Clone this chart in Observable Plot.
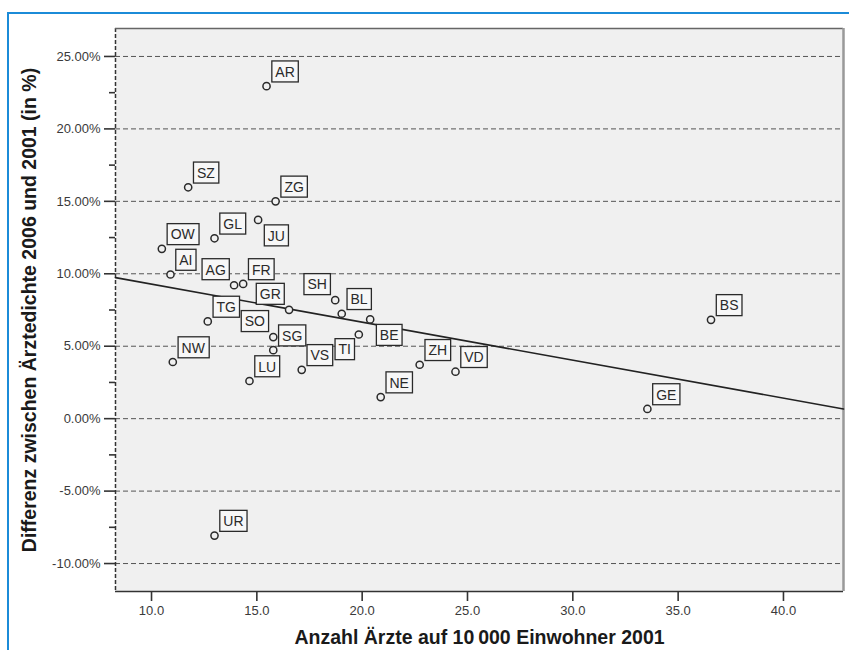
<!DOCTYPE html>
<html><head><meta charset="utf-8">
<script src="https://cdn.jsdelivr.net/npm/d3@7"></script>
<script src="https://cdn.jsdelivr.net/npm/@observablehq/plot@0.6"></script>
<style>
body{margin:0;background:#fff;}
#wrap{position:relative;width:849px;height:650px;overflow:hidden;}
#blue{position:absolute;left:7px;top:12px;width:900px;height:700px;border-left:2px solid #1b8bd8;border-top:2px solid #1b8bd8;pointer-events:none;}
</style></head><body><div id="wrap"><div id="blue"></div></div>
<script>
// ---- data ----
const cantons = ["AR","SZ","ZG","GL","JU","OW","AI","AG","FR","SH","GR","BL","BE","TG","SO","SG","NW","LU","VS","TI","NE","ZH","VD","BS","GE","UR"];
const doctorsPer10k2001 = [15.46,11.74,15.89,12.99,15.06,10.49,10.90,13.92,14.35,18.72,16.53,19.03,20.38,12.67,15.78,15.78,11.01,14.65,17.13,19.84,20.88,22.73,24.43,36.56,33.54,12.99];
const densityChangePct = [22.95,15.97,15.00,12.45,13.72,11.72,9.95,9.21,9.30,8.18,7.51,7.24,6.85,6.71,5.63,4.73,3.91,2.60,3.37,5.81,1.49,3.72,3.24,6.82,0.67,-8.07];
const yTicks = [-10,-5,0,5,10,15,20,25];
const yMinorTicks = [-7.5,-2.5,2.5,7.5,12.5,17.5,22.5];
const xTicks = [10,15,20,25,30,35,40];
const xTitle = "Anzahl Ärzte auf 10\u2009000 Einwohner 2001";
const yTitle = "Differenz zwischen Ärztedichte 2006 und 2001 (in %)";
// label side relative to the point (default: upper right)
const labelSide = {AG:"nw", SH:"nw", GR:"nw", SO:"nw", JU:"se", BE:"se", TI:"sw"};

const xDomain = [8.29, 42.85];
const yDomain = [-11.93, 26.93];

const rows = cantons.map((c, i) => ({canton: c, x: doctorsPer10k2001[i], y: densityChangePct[i], side: labelSide[c] || "ne"}));

// least squares fit, drawn across the whole x axis
const mx = d3.mean(rows, d => d.x), my = d3.mean(rows, d => d.y);
const slope = d3.sum(rows, d => (d.x - mx) * (d.y - my)) / d3.sum(rows, d => (d.x - mx) ** 2);
const icpt = my - slope * mx;
const fit = xDomain.map(x => ({x, y: icpt + slope * x}));

const font = "'Liberation Sans', Arial, Helvetica, sans-serif";
const labelOpts = {x: "x", y: "y", text: "canton", fontSize: 14, fill: "#2a2a2a", lineAnchor: "middle"};
const sides = {
  ne: {textAnchor: "start", dx: 8.8, dy: -13.9},
  nw: {textAnchor: "end", dx: -8.3, dy: -15.2},
  se: {textAnchor: "start", dx: 9.7, dy: 16.3},
  sw: {textAnchor: "end", dx: -7.8, dy: 15.5}
};

const plot = Plot.plot({
  width: 849, height: 650,
  marginLeft: 115, marginRight: 6, marginTop: 28, marginBottom: 59,
  style: {fontFamily: font, fontSize: "13px", background: "transparent", color: "#333"},
  x: {domain: xDomain, axis: null},
  y: {domain: yDomain, axis: null},
  marks: [
    Plot.frame({fill: "#f0f0f0", stroke: null}),
    Plot.ruleY(yTicks, {stroke: "#555", strokeWidth: 1, strokeDasharray: "5,3"}),
    Plot.ruleX([xDomain[0]], {stroke: "#333", strokeWidth: 1.5, strokeDasharray: "4,2"}),
    Plot.ruleY([yDomain[1]], {stroke: "#666", strokeWidth: 1.5}),
    Plot.ruleY([yDomain[0]], {stroke: "#333", strokeWidth: 1.5}),
    Plot.ruleX([xDomain[1]], {stroke: "#999", strokeWidth: 2.5}),
    Plot.axisY(yTicks, {tickSize: 11, tickPadding: 4, tickFormat: d => d.toFixed(2) + "%", stroke: "#333", strokeWidth: 1.6, fill: "#3a3a3a", fontSize: 13, label: null}),
    Plot.axisY(yMinorTicks, {tickSize: 6, tickFormat: () => "", stroke: "#333", strokeWidth: 1.6, label: null}),
    Plot.axisX(xTicks, {tickSize: 10, tickPadding: 4, tickFormat: d => d.toFixed(1), stroke: "#333", strokeWidth: 1.6, fill: "#3a3a3a", fontSize: 13, label: null}),
    Plot.line(fit, {x: "x", y: "y", stroke: "#222", strokeWidth: 1.6}),
    ...Object.entries(sides).map(([s, o]) =>
      Plot.text(rows.filter(d => d.side === s), {...labelOpts, ...o, className: "clabel"})),
    Plot.dot(rows, {x: "x", y: "y", r: 3.6, stroke: "#2a2a2a", strokeWidth: 1.5, fill: "#f0f0f0"}),
    Plot.text([yTitle], {frameAnchor: "left", dx: -86, rotate: -90, fontSize: 19.5, fontWeight: "bold", fill: "#1a1a1a", textAnchor: "middle", lineAnchor: "middle"}),
    Plot.text([xTitle], {frameAnchor: "bottom", dy: 46, fontSize: 19.5, fontWeight: "bold", fill: "#1a1a1a", textAnchor: "middle", lineAnchor: "middle"})
  ]
});
const wrap = document.getElementById("wrap");
plot.style.position = "absolute";
plot.style.left = "0";
plot.style.top = "0";
wrap.insertBefore(plot, wrap.firstChild);

// boxes behind the canton labels
plot.querySelectorAll("g[aria-label=text] text").forEach(t => {
  if (!cantons.includes(t.textContent)) return;
  const b = t.getBBox();
  const cy = b.y + b.height / 2 - 0.3;
  const r = document.createElementNS("http://www.w3.org/2000/svg", "rect");
  r.setAttribute("x", b.x - 3.5);
  r.setAttribute("y", cy - 10.5);
  r.setAttribute("width", b.width + 7);
  r.setAttribute("height", 21);
  r.setAttribute("fill", "#f7f7f7");
  r.setAttribute("stroke", "#2a2a2a");
  r.setAttribute("stroke-width", 1.3);
  const tr = t.getAttribute("transform");
  if (tr) r.setAttribute("transform", tr);
  t.parentNode.insertBefore(r, t);
});
</script>
</body></html>
